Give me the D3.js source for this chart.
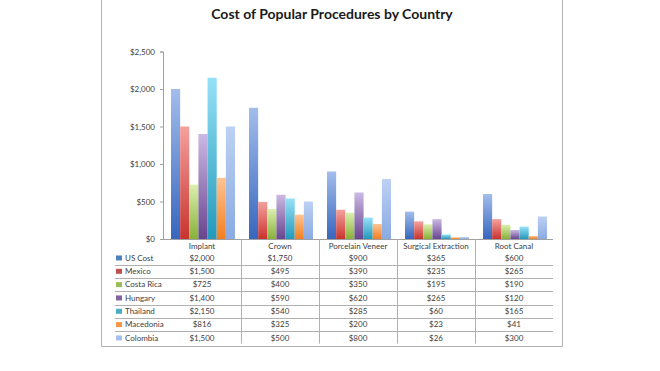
<!DOCTYPE html>
<html>
<head>
<meta charset="utf-8">
<script src="https://cdn.jsdelivr.net/npm/d3@7"></script>
<style>
  html, body { margin: 0; padding: 0; background: #fff; }
  svg { display: block; font-family: Lato, "Open Sans", sans-serif; }
</style>
</head>
<body>
<svg id="chart" width="660" height="371"></svg>
<script>
// Chart data
const procedures = ['Implant', 'Crown', 'Porcelain Veneer', 'Surgical Extraction', 'Root Canal'];
const countries = ['US Cost', 'Mexico', 'Costa Rica', 'Hungary', 'Thailand', 'Macedonia', 'Colombia'];
const usCost    = [2000, 1750, 900, 365, 600];
const mexico    = [1500, 495, 390, 235, 265];
const costaRica = [725, 400, 350, 195, 190];
const hungary   = [1400, 590, 620, 265, 120];
const thailand  = [2150, 540, 285, 60, 165];
const macedonia = [816, 325, 200, 23, 41];
const colombia  = [1500, 500, 800, 26, 300];
const yTicks = [0, 500, 1000, 1500, 2000, 2500];

const seriesValues = [usCost, mexico, costaRica, hungary, thailand, macedonia, colombia];

// Excel-style gradient colours: [top, bottom, swatch]
const palette = [
    ['#a3bdec', '#3766bd', '#4f81bd'],
    ['#f4a19d', '#c8332f', '#c0504d'],
    ['#dbefae', '#87b13a', '#9bbb59'],
    ['#cbb9e4', '#67458f', '#8064a2'],
    ['#96e1f7', '#2499bb', '#4bacc6'],
    ['#fdc494', '#f27f20', '#f79646'],
    ['#bdd1f3', '#8aaae2', '#a5bfea']
];

const svg = d3.select('#chart');
const margin = { left: 163, right: 553, top: 51.5, bottom: 239 };
const textColor = '#404040';
const labelSize = '8px';

// Frame
svg.append('rect')
    .attr('x', 101.5).attr('y', -2)
    .attr('width', 461).attr('height', 348.5)
    .attr('fill', 'none')
    .attr('stroke', '#b4b4b4')
    .attr('stroke-width', 1);

// Title
svg.append('text')
    .attr('x', 332).attr('y', 19)
    .attr('text-anchor', 'middle')
    .attr('font-size', '14px')
    .attr('font-weight', '700')
    .attr('fill', '#1a1a1a')
    .text('Cost of Popular Procedures by Country');

// Scales
const x0 = d3.scaleBand()
    .domain(procedures)
    .range([margin.left, margin.right]);

const x1 = d3.scaleBand()
    .domain(countries)
    .range([8, x0.bandwidth() - 6]);

const y = d3.scaleLinear()
    .domain([0, 2500])
    .range([margin.bottom, margin.top]);

// Gradients
const defs = svg.append('defs');
palette.forEach((c, i) => {
    const g = defs.append('linearGradient')
        .attr('id', 'grad' + i)
        .attr('x1', 0).attr('y1', 0).attr('x2', 0).attr('y2', 1);
    g.append('stop').attr('offset', '0%').attr('stop-color', c[0]);
    g.append('stop').attr('offset', '100%').attr('stop-color', c[1]);
});

// Y axis
const yAxis = d3.axisLeft(y)
    .tickValues(yTicks)
    .tickSize(3)
    .tickPadding(5)
    .tickFormat(d => '$' + d3.format(',')(d));

const yAxisG = svg.append('g')
    .attr('transform', `translate(${margin.left},0)`)
    .call(yAxis);
yAxisG.select('.domain').attr('stroke', '#a0a0a0');
yAxisG.selectAll('line').attr('stroke', '#a0a0a0');
yAxisG.selectAll('text')
    .attr('font-family', 'Lato, sans-serif')
    .attr('font-size', labelSize)
    .attr('fill', textColor);

// Bars
const groups = svg.selectAll('.proc')
    .data(procedures)
    .enter()
    .append('g')
    .attr('class', 'proc')
    .attr('transform', d => `translate(${x0(d)},0)`);

groups.selectAll('rect')
    .data((p, pi) => countries.map((c, ci) => ({ country: c, ci: ci, value: seriesValues[ci][pi] })))
    .enter()
    .append('rect')
    .attr('x', d => x1(d.country))
    .attr('y', d => y(d.value))
    .attr('width', x1.bandwidth())
    .attr('height', d => y(0) - y(d.value))
    .attr('fill', d => `url(#grad${d.ci})`);

// X axis baseline
svg.append('line')
    .attr('x1', margin.left).attr('x2', margin.right)
    .attr('y1', margin.bottom + 0.5).attr('y2', margin.bottom + 0.5)
    .attr('stroke', '#a0a0a0');

// Data table
const headerH = 12.3;
const rowH = 13.33;
const tableTop = margin.bottom + headerH;
const tableBottom = tableTop + rowH * countries.length - 1;

// Vertical dividers between categories
svg.selectAll('.vdiv')
    .data(procedures.slice(1))
    .enter()
    .append('line')
    .attr('x1', d => Math.round(x0(d)) + 0.5)
    .attr('x2', d => Math.round(x0(d)) + 0.5)
    .attr('y1', margin.bottom)
    .attr('y2', tableBottom)
    .attr('stroke', '#b0b0b0');

// Horizontal row lines
svg.selectAll('.hdiv')
    .data(countries.slice(0, -1))
    .enter()
    .append('line')
    .attr('x1', 115)
    .attr('x2', margin.right)
    .attr('y1', (d, i) => Math.round(tableTop + rowH * (i + 1)) + 0.5)
    .attr('y2', (d, i) => Math.round(tableTop + rowH * (i + 1)) + 0.5)
    .attr('stroke', '#b0b0b0');

// Header labels
svg.selectAll('.hdr')
    .data(procedures)
    .enter()
    .append('text')
    .attr('x', d => x0(d) + x0.bandwidth() / 2)
    .attr('y', margin.bottom + headerH / 2 + 1)
    .attr('dy', '0.35em')
    .attr('text-anchor', 'middle')
    .attr('font-size', labelSize)
    .attr('fill', textColor)
    .text(d => d);

// Legend keys + names
const rows = svg.selectAll('.row')
    .data(countries)
    .enter()
    .append('g')
    .attr('transform', (d, i) => `translate(0,${tableTop + rowH * i + rowH / 2})`);

rows.append('rect')
    .attr('x', 116).attr('y', -2.5)
    .attr('width', 6).attr('height', 5)
    .attr('fill', (d, i) => palette[i][2]);

rows.append('text')
    .attr('x', 125)
    .attr('dy', '0.35em')
    .attr('font-size', labelSize)
    .attr('fill', textColor)
    .text(d => d);

// Cell values
rows.each(function(c, ci) {
    d3.select(this).selectAll('.cell')
        .data(seriesValues[ci])
        .enter()
        .append('text')
        .attr('x', (v, pi) => x0(procedures[pi]) + x0.bandwidth() / 2)
        .attr('dy', '0.35em')
        .attr('text-anchor', 'middle')
        .attr('font-size', labelSize)
        .attr('fill', textColor)
        .text(v => '$' + d3.format(',')(v));
});
</script>
</body>
</html>
